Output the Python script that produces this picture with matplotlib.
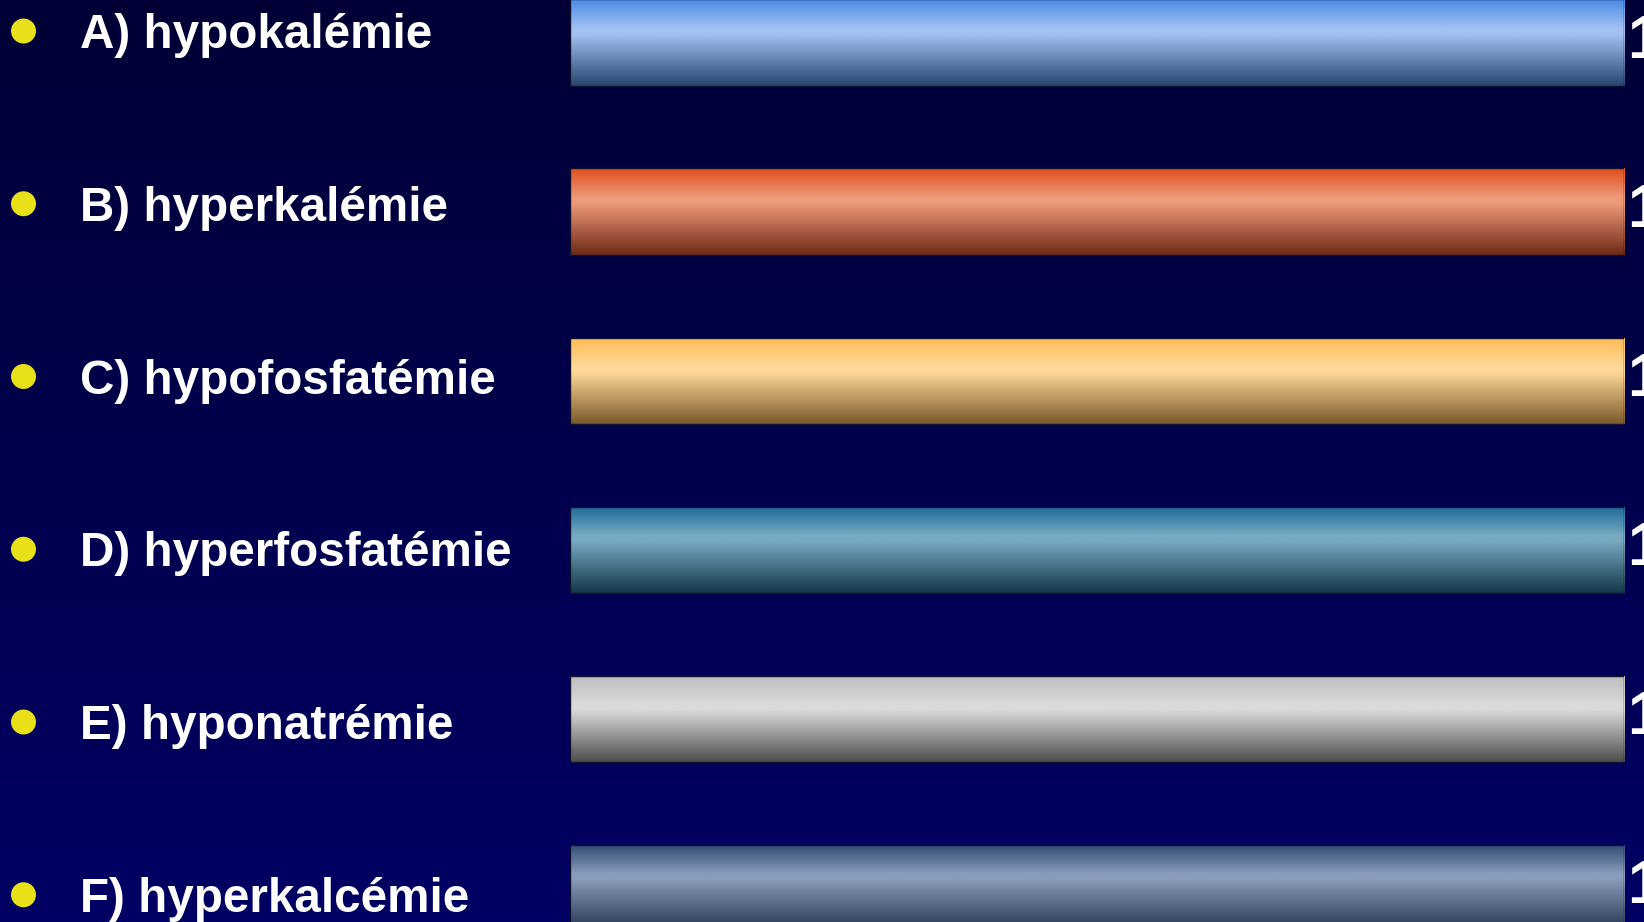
import numpy as np
import matplotlib
matplotlib.use("Agg")
import matplotlib.pyplot as plt
from matplotlib.colors import LinearSegmentedColormap

# données
options = ["A) hypokalémie", "B) hyperkalémie", "C) hypofosfatémie",
           "D) hyperfosfatémie", "E) hyponatrémie", "F) hyperkalcémie"]
values = [100, 100, 100, 100, 100, 100]
value_labels = ["100%", "100%", "100%", "100%", "100%", "100%"]
# (haut, reflet, bas) de chaque barre
bar_colors = [("#4a8ae6", "#a2c2f2", "#27456f"),
              ("#e04e1e", "#ee9a7a", "#6e2a14"),
              ("#ffbc55", "#ffd898", "#7a5a2c"),
              ("#1c6a98", "#78aac2", "#123848"),
              ("#bdbdbd", "#dadada", "#4e4e4e"),
              ("#2e4a72", "#8a9cbc", "#26344e")]

W, H = 1644, 922
fig = plt.figure(figsize=(W/100, H/100), dpi=100)

# fond dégradé bleu nuit
bg = fig.add_axes([0, 0, 1, 1], zorder=0)
bg.imshow(np.linspace(0, 1, 256).reshape(-1, 1), aspect='auto', extent=(0, 1, 0, 1),
          cmap=LinearSegmentedColormap.from_list('bg', ['#000036', '#000064']),
          origin='upper')
bg.set_axis_off()

# axe des barres (positions en pixels)
x0, x1 = 570, 1624
yc0, step = 42.5, 169.1
top_px = yc0 - 0.5*step
bot_px = yc0 + 5.5*step
ax = fig.add_axes([x0/W, (H-bot_px)/H, (x1-x0)/W, (bot_px-top_px)/H], zorder=1)
ax.patch.set_visible(False)
ax.set_xlim(0, 100)
ax.set_ylim(5.5, -0.5)
ax.set_axis_off()

ypos = np.arange(len(options))
bars = ax.barh(ypos, values, height=0.51, color='none',
               edgecolor='#101030', linewidth=1.0)
grad = np.linspace(0, 1, 200).reshape(-1, 1)
for b, (ct, ch, cb) in zip(bars, bar_colors):
    cmap = LinearSegmentedColormap.from_list(
        'g', [(0, ct), (0.34, ch), (0.40, ch), (1, cb)])
    x, y, w, h = b.get_x(), b.get_y(), b.get_width(), b.get_height()
    im = ax.imshow(grad, aspect='auto', cmap=cmap, origin='upper',
                   extent=(x, x + w, y + h, y), zorder=1)
    im.set_clip_path(b)
    b.set_zorder(2)
ax.set_xlim(0, 100)
ax.set_ylim(5.5, -0.5)

# valeurs (coupées au bord droit comme sur la diapo)
for yy, v, lab in zip(ypos, values, value_labels):
    ax.annotate(lab, xy=(v, yy), xytext=(2, 0), textcoords='offset points',
                ha='left', va='center', color='white', fontsize=44,
                family='Liberation Sans', weight='bold', clip_on=False)

# puces et libellés (coordonnées pixels)
ov = fig.add_axes([0, 0, 1, 1], zorder=2)
ov.set_xlim(0, W)
ov.set_ylim(H, 0)
ov.patch.set_visible(False)
ov.set_axis_off()
by0, bstep = 31, 172.75
for i, lab in enumerate(options):
    yb = by0 + i*bstep
    ov.scatter([23.5], [yb], s=18**2, color='#e8e018', edgecolors='none')
    ov.text(80, yb + 17, lab, ha='left', va='baseline', color='white',
            fontsize=34.3, family='Liberation Sans', weight='bold')

fig.savefig("out.png", dpi=100)
